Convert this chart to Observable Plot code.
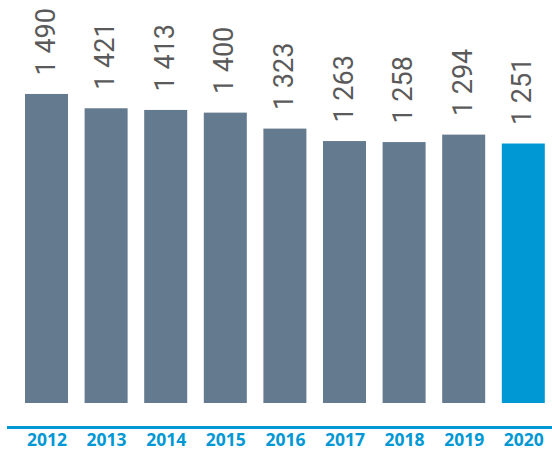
<!DOCTYPE html>
<html>
<head>
<meta charset="utf-8">
<script src="https://cdn.jsdelivr.net/npm/d3@7"></script>
<script src="https://cdn.jsdelivr.net/npm/@observablehq/plot@0.6"></script>
<style>
  html, body { margin: 0; padding: 0; background: #fff; }
</style>
</head>
<body>
<div id="chart"></div>
<script>
const years = ["2012", "2013", "2014", "2015", "2016", "2017", "2018", "2019", "2020"];
const values = [1490, 1421, 1413, 1400, 1323, 1263, 1258, 1294, 1251];
const labels = ["1 490", "1 421", "1 413", "1 400", "1 323", "1 263", "1 258", "1 294", "1 251"];
const highlightYear = "2020";

const data = years.map((y, i) => ({year: y, value: values[i], label: labels[i]}));

const grey = "#647a8e";
const blue = "#0098d4";

const chart = Plot.plot({
  width: 552,
  height: 450,
  marginLeft: 8,
  marginRight: 0,
  marginTop: 0,
  marginBottom: 23,
  x: {domain: years, range: [16.7, 553.1], padding: 0, round: false, label: null},
  y: {domain: [0, 1943], range: [403, 0], axis: null},
  style: {fontFamily: "Roboto, sans-serif", background: "#fff"},
  marks: [
    Plot.barY(data, {
      x: "year", y: "value", insetLeft: 8.3, insetRight: 8.3,
      fill: d => d.year === highlightYear ? blue : grey
    }),
    Plot.text(data, {
      x: "year", y: "value", text: "label",
      rotate: -90, textAnchor: "start", lineAnchor: "middle",
      dy: -19, dx: -1,
      fontSize: 27, fontWeight: 400, fill: "#5a5a5a",
      fontFamily: "Roboto, sans-serif"
    }),
    Plot.frame({anchor: "bottom", stroke: blue, strokeWidth: 3}),
    Plot.axisX({
      tickSize: 0, tickPadding: 6, fontSize: 17.5, fontWeight: 700,
      fill: blue, fontFamily: "'Open Sans', sans-serif", label: null
    })
  ]
});
document.getElementById("chart").appendChild(chart);
</script>
</body>
</html>
